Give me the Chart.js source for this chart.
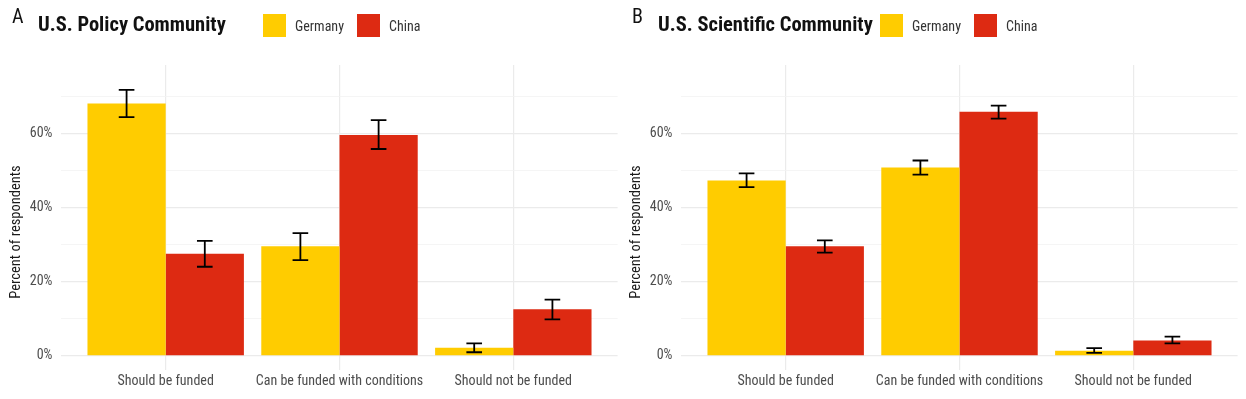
<!DOCTYPE html>
<html>
<head>
<meta charset="utf-8">
<script src="https://cdn.jsdelivr.net/npm/chart.js@4/dist/chart.umd.min.js"></script>
<style>
  body { margin: 0; background: #fff; width: 1246px; height: 399px; position: relative; overflow: hidden; }
  .panel { position: absolute; top: 0; height: 399px; }
  .panel canvas { position: absolute; left: 0; top: 0; }
  .tag { position: absolute; top: 4px; font: 20px 'Roboto Condensed', 'Liberation Sans Narrow', 'DejaVu Sans Condensed', Roboto, sans-serif; color: #111; }
  .title { position: absolute; top: 12px; font: bold 20.5px 'Roboto Condensed', 'Liberation Sans Narrow', 'DejaVu Sans Condensed', Roboto, sans-serif; color: #111; white-space: nowrap; }
  .legend { position: absolute; top: 14px; display: flex; align-items: center; font: 14px 'Roboto Condensed', 'Liberation Sans Narrow', 'DejaVu Sans Condensed', Roboto, sans-serif; color: #333; }
  .legend .sw { width: 23px; height: 23px; margin-right: 9px; }
  .legend .lab { margin-right: 13px; }
</style>
</head>
<body>
<div class="panel" style="left:0;width:620px">
  <canvas id="chartA" width="620" height="399"></canvas>
  <div class="tag" style="left:12px">A</div>
  <div class="title" style="left:38px">U.S. Policy Community</div>
  <div class="legend" id="legendA" style="left:263px"></div>
</div>
<div class="panel" style="left:620px;width:626px">
  <canvas id="chartB" width="626" height="399"></canvas>
  <div class="tag" style="left:12px">B</div>
  <div class="title" style="left:38px">U.S. Scientific Community</div>
  <div class="legend" id="legendB" style="left:260px"></div>
</div>
<script>
// Catégories et séries
const categories = ['Should be funded', 'Can be funded with conditions', 'Should not be funded'];
const seriesNames = ['Germany', 'China'];
const seriesColors = ['#FFCC00', '#DD2A12'];
const yTickLabels = [0, 20, 40, 60];

// Panneau A : communauté politique
const policyGermany = [68.2, 29.6, 2.2];
const policyGermanyLow = [64.5, 25.9, 1.0];
const policyGermanyHigh = [71.9, 33.2, 3.4];
const policyChina = [27.6, 59.7, 12.6];
const policyChinaLow = [24.1, 55.9, 9.9];
const policyChinaHigh = [31.1, 63.7, 15.2];

// Panneau B : communauté scientifique
const sciGermany = [47.4, 50.9, 1.4];
const sciGermanyLow = [45.6, 49.0, 0.8];
const sciGermanyHigh = [49.3, 52.8, 2.1];
const sciChina = [29.6, 66.0, 4.2];
const sciChinaLow = [27.9, 64.1, 3.4];
const sciChinaHigh = [31.2, 67.6, 5.2];

var FONT = "'Roboto Condensed', 'Liberation Sans Narrow', 'DejaVu Sans Condensed', Roboto, sans-serif";

// Dessine les barres d'erreur à partir des échelles du graphique
var errorBars = {
    id: 'errorBars',
    afterDatasetsDraw: function(chart) {
        var ctx = chart.ctx;
        var y = chart.scales.y;
        chart.data.datasets.forEach(function(ds, di) {
            var meta = chart.getDatasetMeta(di);
            meta.data.forEach(function(bar, i) {
                var top = y.getPixelForValue(ds.errHigh[i]);
                var bottom = y.getPixelForValue(ds.errLow[i]);
                var half = bar.width * 0.1;
                ctx.save();
                ctx.strokeStyle = '#000';
                ctx.lineWidth = 1.8;
                ctx.beginPath();
                ctx.moveTo(bar.x, top); ctx.lineTo(bar.x, bottom);
                ctx.moveTo(bar.x - half, top); ctx.lineTo(bar.x + half, top);
                ctx.moveTo(bar.x - half, bottom); ctx.lineTo(bar.x + half, bottom);
                ctx.stroke();
                ctx.restore();
            });
        });
    }
};

// Titre de l'axe Y, placé comme dans l'original
var yTitle = {
    id: 'yTitle',
    afterDraw: function(chart) {
        var ctx = chart.ctx;
        ctx.save();
        ctx.translate(16, 232);
        ctx.rotate(-Math.PI / 2);
        ctx.font = '14.5px ' + FONT;
        ctx.fillStyle = '#1A1A1A';
        ctx.textAlign = 'center';
        ctx.textBaseline = 'middle';
        ctx.fillText('Percent of respondents', 0, 0);
        ctx.restore();
    }
};

function buildLegend(id) {
    var el = document.getElementById(id);
    for (var i = 0; i < seriesNames.length; i++) {
        var sw = document.createElement('div');
        sw.className = 'sw';
        sw.style.background = seriesColors[i];
        var lab = document.createElement('div');
        lab.className = 'lab';
        lab.textContent = seriesNames[i];
        el.appendChild(sw);
        el.appendChild(lab);
    }
}

function makeChart(canvasId, germany, gLow, gHigh, china, cLow, cHigh, rightPad) {
    var ctx = document.getElementById(canvasId).getContext('2d');
    return new Chart(ctx, {
        type: 'bar',
        data: {
            labels: categories,
            datasets: [{
                label: seriesNames[0],
                data: germany,
                errLow: gLow,
                errHigh: gHigh,
                backgroundColor: seriesColors[0],
                barPercentage: 1,
                categoryPercentage: 0.9
            }, {
                label: seriesNames[1],
                data: china,
                errLow: cLow,
                errHigh: cHigh,
                backgroundColor: seriesColors[1],
                barPercentage: 1,
                categoryPercentage: 0.9
            }]
        },
        options: {
            responsive: false,
            animation: false,
            layout: { padding: { left: 0, top: 65, right: rightPad, bottom: 0 } },
            plugins: { legend: { display: false }, tooltip: { enabled: false } },
            scales: {
                x: {
                    offset: true,
                    grid: { offset: false, color: '#EBEBEB', lineWidth: 1.2, drawTicks: false },
                    border: { display: false },
                    ticks: { color: '#4D4D4D', font: { family: FONT, size: 14 }, padding: 3, maxRotation: 0 },
                    // expansion de 0.6 catégorie de chaque côté, comme ggplot
                    afterBuildTicks: function(scale) {
                        scale._startValue = scale.min - 0.6;
                        scale._valueRange = scale.max - scale.min + 1.2;
                    },
                    afterFit: function(scale) { scale.height = 29; }
                },
                y: {
                    min: -3.8,
                    max: 78.6,
                    grid: {
                        drawTicks: false,
                        color: function(c) { return c.tick.value % 20 === 0 ? '#EBEBEB' : '#F3F3F3'; },
                        lineWidth: function(c) { return c.tick.value % 20 === 0 ? 1.2 : 0.8; }
                    },
                    border: { display: false },
                    ticks: {
                        stepSize: 10,
                        includeBounds: false,
                        color: '#4D4D4D',
                        font: { family: FONT, size: 14 },
                        padding: 9,
                        callback: function(v) { return yTickLabels.indexOf(v) >= 0 ? v + '%' : ''; }
                    },
                    afterFit: function(scale) { scale.width = 61.4; }
                }
            }
        },
        plugins: [errorBars, yTitle]
    });
}

buildLegend('legendA');
buildLegend('legendB');
makeChart('chartA', policyGermany, policyGermanyLow, policyGermanyHigh, policyChina, policyChinaLow, policyChinaHigh, 2.4);
makeChart('chartB', sciGermany, sciGermanyLow, sciGermanyHigh, sciChina, sciChinaLow, sciChinaHigh, 8.4);
</script>
</body>
</html>
